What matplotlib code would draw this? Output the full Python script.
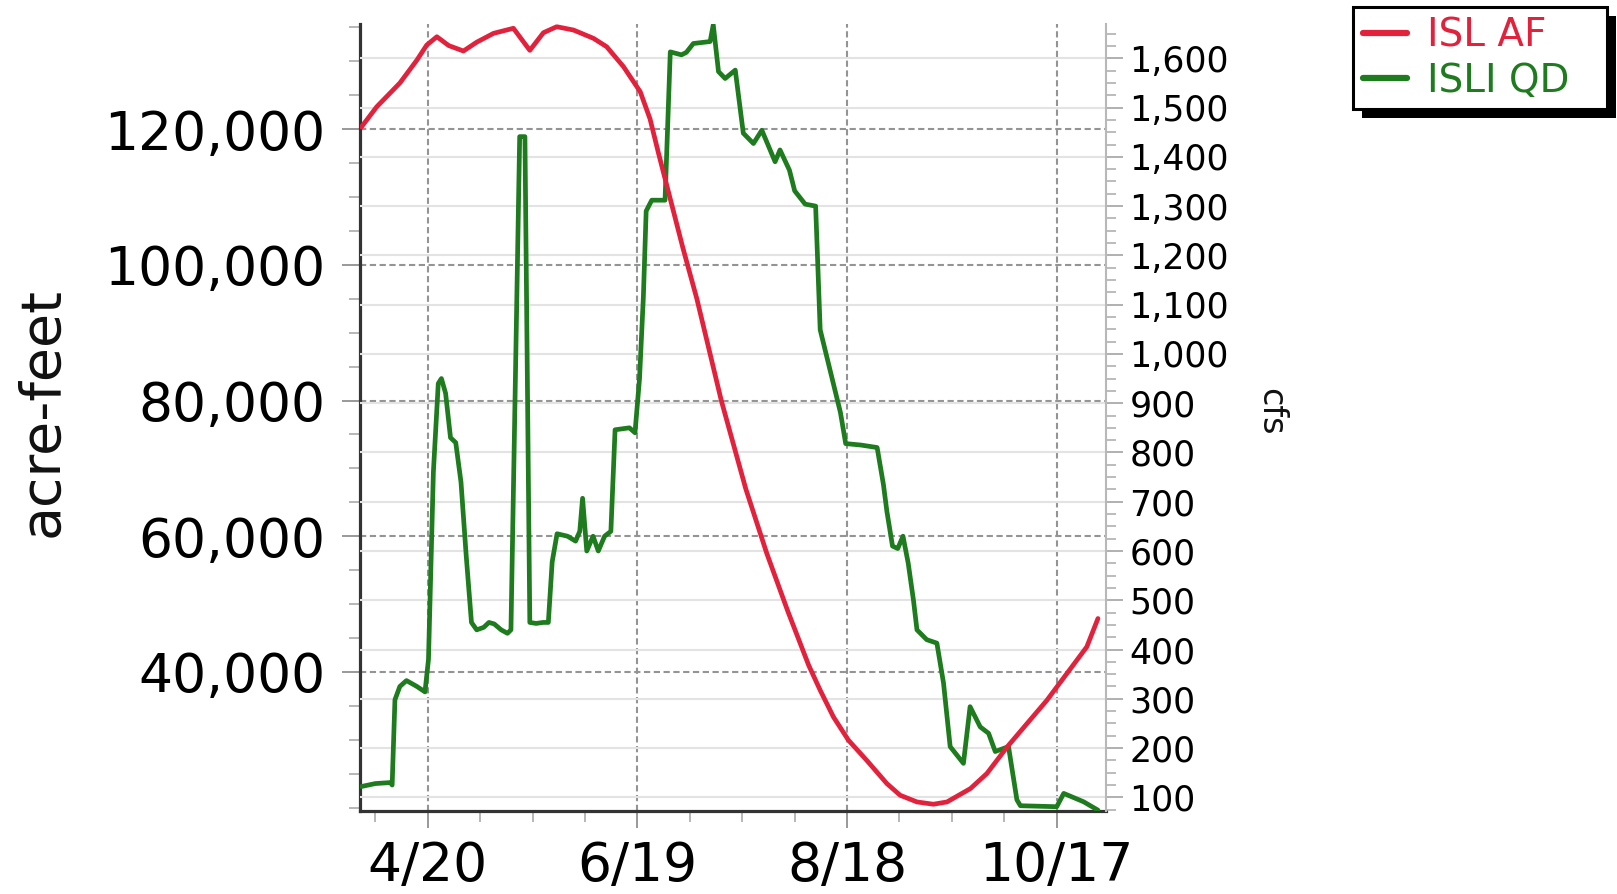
import matplotlib
matplotlib.use("Agg")
import matplotlib.pyplot as plt
import pandas as pd
from matplotlib.ticker import FixedLocator, MultipleLocator, FuncFormatter
from matplotlib.patches import Rectangle

# ---------------- data ----------------
start_date = "2021-04-01"          # first day shown on the x axis
end_date = "2021-10-31"            # last day shown on the x axis

x_tick_labels = ["4/20", "6/19", "8/18", "10/17"]
left_ticks = [40000, 60000, 80000, 100000, 120000]
right_ticks = [100, 200, 300, 400, 500, 600, 700, 800, 900, 1000,
               1100, 1200, 1300, 1400, 1500, 1600]

series_names = ["ISL AF", "ISLI QD"]
axis_titles = ["acre-feet", "cfs"]

# ISL AF (acre-feet, left axis): day offset from start_date, value
isl_af_day = [0, 4.4, 11, 15.9, 18.7, 21.6, 25, 29.2, 33, 37.8, 43.5, 48.2,
              52.1, 55.9, 60.7, 66.4, 70.2, 75, 79.8, 82.6, 85, 88, 92, 96,
              103, 110, 116, 122, 128, 131.3, 135.1, 139.4, 144.6, 150.4,
              154.2, 159, 163.7, 167.6, 174.3, 179, 184.8, 190.5, 196.2,
              201.9, 207.6, 210.8]
isl_af = [120300, 123290, 126780, 130170, 132380, 133600, 132300, 131500,
          132800, 134100, 134850, 131600, 134200, 135080, 134590, 133370,
          132130, 129200, 125500, 121500, 116500, 110500, 102500, 95000,
          80000, 67000, 57500, 49000, 41000, 37310, 33370, 29940, 26990,
          23550, 21830, 20850, 20510, 20850, 22820, 25030, 28950, 32400,
          35840, 39770, 43700, 47880]

# ISLI QD (cfs, right axis): day offset from start_date, value
isli_qd_day = [0, 4, 8.3, 8.8, 9.6, 11, 12.9, 15.9, 18.2, 19.2, 20.6, 22,
               22.9, 24.1, 25.5, 27, 28.5, 30, 31.5, 33, 35, 36.5, 38, 40,
               41.8, 42.8, 45.3, 46.8, 48.2, 50, 52, 53.5, 54.6, 56, 59,
               61.3, 62.5, 63.3, 64.5, 66.3, 67.8, 69.6, 71.4, 72.6, 76.7,
               78.3, 79.6, 80.7, 81.5, 83.1, 86.9, 88.4, 91.6, 93, 95, 99.8,
               100.7, 102.2, 104.1, 107, 109.3, 112.2, 114.6, 118.4, 119.8,
               122.5, 124, 127, 130, 131.3, 134.2, 137.1, 138.6, 143, 147.6,
               149.4, 150.4, 152, 153.5, 155, 156.5, 158, 159, 161.8, 164.7,
               166.6, 168.5, 172.3, 174.2, 177.1, 179.5, 181.4, 185.2,
               187.6, 188.6, 199, 201, 206.7, 210.8]
isli_qd = [122, 128, 130, 125, 298, 325, 337, 325, 314, 380, 760, 940,
           950, 920, 830, 820, 740, 590, 455, 440, 445, 455, 452, 440,
           433, 440, 1441, 1441, 455, 453, 455, 455, 578, 635, 630,
           620, 640, 707, 600, 630, 600, 630, 640, 846, 850,
           840, 950, 1116, 1290, 1312, 1312, 1613, 1607, 1612, 1630, 1634,
           1668, 1573, 1559, 1576, 1448, 1427, 1454, 1390, 1414,
           1373, 1331, 1304, 1300, 1049, 965, 881, 818, 815, 810,
           735, 680, 610, 605, 630, 575, 500, 440, 420, 413,
           332, 203, 169, 284, 243, 230, 193, 203,
           95, 83, 81, 108, 91, 74]

# ---------------- figure ----------------
W_PX, H_PX = 1617, 894
fig = plt.figure(figsize=(W_PX / 100, H_PX / 100), dpi=100)
fig.patch.set_facecolor("white")

ax = fig.add_axes([360 / W_PX, 83 / H_PX, 746 / W_PX, 787 / H_PX])
ax2 = ax.twinx()

start = pd.Timestamp(start_date)
end = pd.Timestamp(end_date)


def day_of(label):
    m, d = label.split("/")
    return (pd.Timestamp(year=start.year, month=int(m), day=int(d)) - start).days


RED = "#e2223c"
GREEN = "#1e7b1e"
LW = 3.4

# red line drawn in ax2 (so it sits above all grids) but in ax's data coords
l_red, = ax2.plot(isl_af_day, isl_af, color=RED, lw=LW, transform=ax.transData,
                  solid_joinstyle="round", solid_capstyle="round", zorder=3,
                  label=series_names[0])
l_green, = ax2.plot(isli_qd_day, isli_qd, color=GREEN, lw=LW,
                    solid_joinstyle="round", solid_capstyle="round", zorder=2,
                    label=series_names[1])

# limits
ax.set_xlim(-0.4, (end - start).days + 0.1)
ax.set_ylim(19514, 135480)
ax2.set_ylim(72.3, 1669.6)

# ---- x axis
ax.xaxis.set_major_locator(FixedLocator([day_of(t) for t in x_tick_labels]))
ax.set_xticklabels(x_tick_labels)
ax.xaxis.set_minor_locator(MultipleLocator(15, offset=day_of(x_tick_labels[0]) % 15))
ax.tick_params(axis="x", which="major", length=12, width=1.4, color="#999999",
               labelsize=38.5, pad=9)
ax.tick_params(axis="x", which="minor", length=8, width=1.2, color="#aaaaaa")

# ---- left axis
fmt = FuncFormatter(lambda v, p: f"{v:,.0f}")
ax.yaxis.set_major_locator(FixedLocator(left_ticks))
ax.yaxis.set_major_formatter(fmt)
ax.yaxis.set_minor_locator(MultipleLocator(5000))
ax.tick_params(axis="y", which="major", length=13, width=1.4, color="#999999",
               labelsize=38.5, pad=12)
ax.tick_params(axis="y", which="minor", length=8, width=1.2, color="#aaaaaa")

# ---- right axis
ax2.yaxis.set_major_locator(FixedLocator(right_ticks))
ax2.yaxis.set_major_formatter(fmt)
ax2.yaxis.set_minor_locator(MultipleLocator(25))
ax2.tick_params(axis="y", which="major", length=12, width=1.3, color="#aaaaaa",
                labelsize=25, pad=5)
ax2.tick_params(axis="y", which="minor", length=7, width=1.1, color="#aaaaaa")

# ---- grids
ax.set_axisbelow(True)
ax.grid(which="major", axis="both", color="#949494", linewidth=1.5,
        linestyle=(0, (3.0, 1.7)))
ax2.set_axisbelow(True)
ax2.grid(which="major", axis="y", color="#e3e3e3", linewidth=1.5)
ax2.grid(which="major", axis="x", visible=False)

# ---- spines
ax.spines["top"].set_visible(False)
ax.spines["right"].set_visible(False)
for s in ("left", "bottom"):
    ax.spines[s].set_color("#333333")
    ax.spines[s].set_linewidth(2.3)
for s in ("top", "left", "bottom"):
    ax2.spines[s].set_visible(False)
ax2.spines["right"].set_color("#b8b8b8")
ax2.spines["right"].set_linewidth(1.5)

# ---- axis titles
fig.text(42.5 / W_PX, 1 - 412 / H_PX, axis_titles[0], rotation=90,
         ha="center", va="center", fontsize=40, color="#111111")
fig.text(1271 / W_PX, 1 - 412 / H_PX, axis_titles[1], rotation=270,
         ha="center", va="center", fontsize=24, color="#111111")

# ---- legend with hard black shadow
leg = fig.legend([l_red, l_green], series_names, loc="upper left",
                 bbox_to_anchor=(1353 / W_PX, 1 - 7 / H_PX, 254 / W_PX, 0),
                 bbox_transform=fig.transFigure, borderaxespad=0, mode="expand",
                 fontsize=28, frameon=True, fancybox=False, framealpha=1,
                 edgecolor="black", handlelength=1.15, handletextpad=0.5,
                 borderpad=0.25, labelspacing=0.18, labelcolor="linecolor")
leg.get_frame().set_linewidth(2.2)
for h in leg.legend_handles:
    h.set_linewidth(4.5)

fig.canvas.draw()
bb = leg.get_frame().get_window_extent()
fig.add_artist(Rectangle(((bb.x0 + 9) / W_PX, (bb.y0 - 9) / H_PX),
                         bb.width / W_PX, bb.height / H_PX,
                         transform=fig.transFigure, facecolor="black",
                         edgecolor="none", zorder=4))

fig.savefig("out.png", dpi=100, facecolor="white")
